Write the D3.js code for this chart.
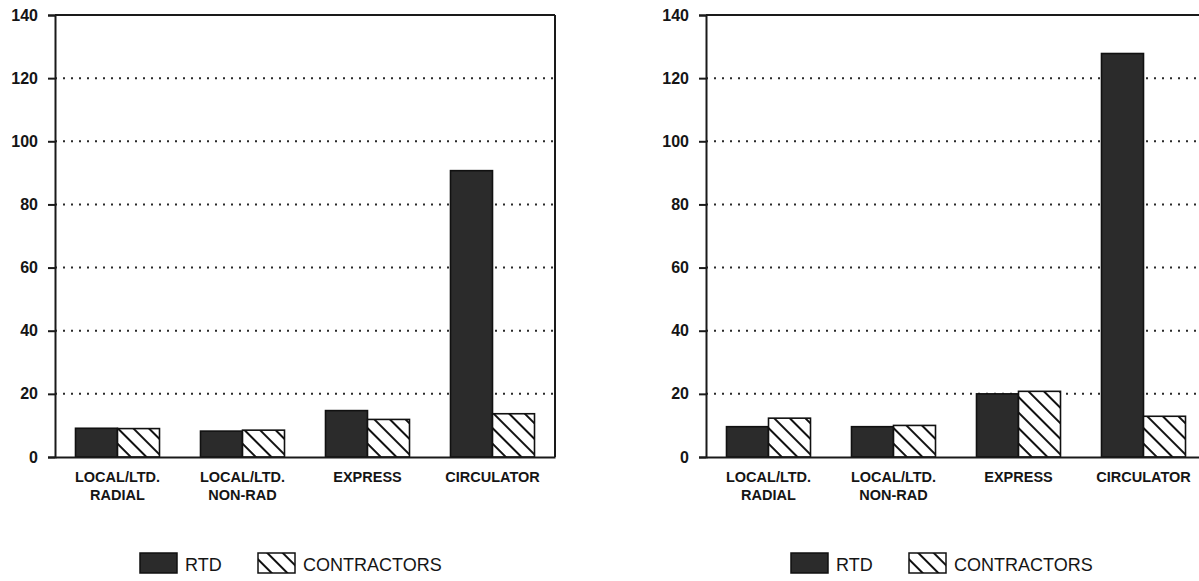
<!DOCTYPE html>
<html>
<head>
<meta charset="utf-8">
<script src="https://cdn.jsdelivr.net/npm/d3@7"></script>
<style>
  html, body { margin: 0; padding: 0; background: #fff; }
  svg { display: block; }
  text { font-family: "Liberation Sans", Arial, Helvetica, sans-serif; fill: #151515; }
</style>
</head>
<body>
<svg id="chart" width="1199" height="581"></svg>
<script>
// ---- data ----
const categories = [["LOCAL/LTD.", "RADIAL"], ["LOCAL/LTD.", "NON-RAD"], ["EXPRESS"], ["CIRCULATOR"]];
const seriesNames = ["RTD", "CONTRACTORS"];
const leftRTD = [9.1, 8.2, 14.7, 90.7];
const leftContractors = [9.0, 8.5, 11.9, 13.7];
const rightRTD = [9.6, 9.6, 20.0, 127.8];
const rightContractors = [12.3, 10.0, 20.8, 12.9];
const yTicks = [0, 20, 40, 60, 80, 100, 120, 140];

const svg = d3.select("#chart");
const defs = svg.append("defs");
const pat = defs.append("pattern")
  .attr("id", "hatch")
  .attr("patternUnits", "userSpaceOnUse")
  .attr("width", 11).attr("height", 11)
  .attr("patternTransform", "rotate(-45)");
pat.append("rect").attr("width", 11).attr("height", 11).attr("fill", "#fff");
pat.append("line").attr("x1", 2).attr("y1", 0).attr("x2", 2).attr("y2", 11)
  .attr("stroke", "#111").attr("stroke-width", 2);

const H_TOP = 15, H_BOT = 457, W = 500;
const y = d3.scaleLinear().domain([0, 140]).range([H_BOT, H_TOP]);
const catKeys = categories.map(c => c.join(" "));

function panel(x0, rtd, con) {
  const g = svg.append("g").attr("transform", `translate(${x0},0)`);
  const x = d3.scaleBand().domain(catKeys).range([0, W]).paddingInner(0.328).paddingOuter(0.164);
  const xs = d3.scaleBand().domain(seriesNames).range([0, x.bandwidth()]);

  // dotted gridlines
  g.append("g").selectAll("line").data(yTicks.filter(t => t > 0 && t < 140)).join("line")
    .attr("x1", 0).attr("x2", W)
    .attr("y1", d => y(d)).attr("y2", d => y(d))
    .attr("stroke", "#2a2a2a").attr("stroke-width", 2)
    .attr("stroke-dasharray", "2,6");

  // bars
  const data = catKeys.map((k, i) => ({ k, vals: [rtd[i], con[i]] }));
  const grp = g.append("g").selectAll("g").data(data).join("g")
    .attr("transform", d => `translate(${x(d.k)},0)`);
  grp.selectAll("rect").data(d => d.vals.map((v, j) => ({ s: seriesNames[j], v }))).join("rect")
    .attr("x", d => xs(d.s))
    .attr("y", d => y(d.v))
    .attr("width", xs.bandwidth())
    .attr("height", d => y(0) - y(d.v))
    .attr("fill", d => d.s === "RTD" ? "#2b2b2b" : "url(#hatch)")
    .attr("stroke", "#111").attr("stroke-width", 1.6);

  // frame: top, right
  g.append("line").attr("x1", 0).attr("x2", W).attr("y1", y(140)).attr("y2", y(140))
    .attr("stroke", "#1a1a1a").attr("stroke-width", 2);
  g.append("line").attr("x1", W).attr("x2", W).attr("y1", y(140)).attr("y2", y(0))
    .attr("stroke", "#1a1a1a").attr("stroke-width", 2);

  // y axis
  const ya = d3.axisLeft(y).tickValues(yTicks).tickSize(7).tickPadding(10).tickFormat(d3.format("d"));
  const yg = g.append("g").call(ya);
  yg.select(".domain").attr("stroke", "#1a1a1a").attr("stroke-width", 2);
  yg.selectAll(".tick line").attr("stroke", "#1a1a1a").attr("stroke-width", 2);
  yg.selectAll(".tick text").attr("font-size", 16).attr("font-weight", "bold")
    .attr("font-family", "'Liberation Sans', Arial, sans-serif").attr("fill", "#151515");

  // x axis
  const xa = d3.axisBottom(x).tickSize(0).tickFormat("");
  const xg = g.append("g").attr("transform", `translate(0,${y(0)})`).call(xa);
  xg.select(".domain").attr("stroke", "#1a1a1a").attr("stroke-width", 2);
  xg.selectAll(".tick").each(function(d, i) {
    const t = d3.select(this).append("text")
      .attr("text-anchor", "middle").attr("font-size", 14.5).attr("font-weight", "bold")
      .attr("fill", "#151515");
    categories[i].forEach((line, li) => {
      t.append("tspan").attr("x", 0).attr("y", 25 + li * 18).text(line);
    });
  });

  // legend
  const lg = g.append("g").attr("transform", `translate(${W / 2 - 165},553)`);
  lg.append("rect").attr("x", 0).attr("y", 0).attr("width", 37).attr("height", 20)
    .attr("fill", "#2b2b2b").attr("stroke", "#111").attr("stroke-width", 1.5);
  lg.append("text").attr("x", 45).attr("y", 18).attr("font-size", 18).text(seriesNames[0]);
  lg.append("rect").attr("x", 118).attr("y", 0).attr("width", 37).attr("height", 20)
    .attr("fill", "url(#hatch)").attr("stroke", "#111").attr("stroke-width", 1.5);
  lg.append("text").attr("x", 163).attr("y", 18).attr("font-size", 18).text(seriesNames[1]);
}

panel(55, leftRTD, leftContractors);
panel(706, rightRTD, rightContractors);
</script>
</body>
</html>
